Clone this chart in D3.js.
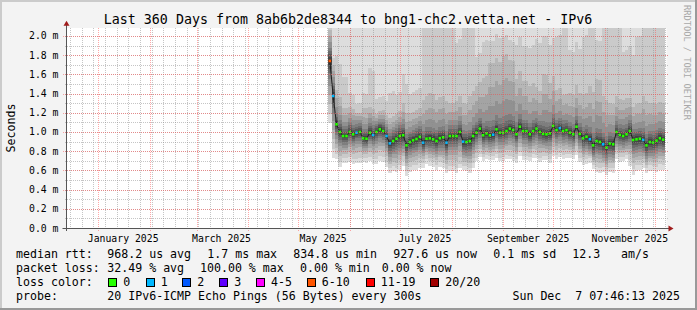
<!DOCTYPE html>
<html>
<head>
<meta charset="utf-8">
<script src="https://cdn.jsdelivr.net/npm/d3@7"></script>
<style>
  body { margin: 0; background: #fff; }
  svg { display: block; }
  text { font-family: "DejaVu Sans Mono", monospace; white-space: pre; }
</style>
</head>
<body>
<script>

// ---- values ----
var title = "Last 360 Days from 8ab6b2de8344 to bng1-chc2.vetta.net - IPv6";
var windowStart = new Date(2024, 11, 13);
var windowEnd = new Date(2025, 11, 8);

// median rtt (ms), one value per 2 days from 19 May 2025
var firstStep = new Date(2025, 4, 19);
var stepDays = 2;
var median = [
  1.74, 1.375, 1.08, 1.0, 0.958, 0.958, 1.0, 0.976, 0.993, 1.0,
  0.934, 0.93, 0.993, 0.969, 1.0, 1.028, 1.01, 0.958, 0.882, 0.906,
  0.93, 0.958, 0.966, 0.861, 0.895, 0.913, 0.927, 0.95, 0.889, 0.93,
  0.934, 0.924, 0.906, 0.935, 0.945, 0.889, 0.958, 0.958, 0.958, 1.0,
  0.899, 0.895, 0.905, 0.958, 0.993, 1.035, 0.966, 0.986, 0.966, 0.972,
  1.028, 0.993, 0.993, 1.01, 1.035, 1.02, 0.976, 1.055, 1.01, 1.01,
  0.976, 1.01, 1.035, 1.0, 0.98, 0.976, 0.986, 1.063, 1.02, 1.04,
  1.01, 1.02, 0.993, 0.976, 1.055, 0.98, 0.934, 0.951, 0.924, 0.861,
  0.906, 0.896, 0.872, 0.837, 0.88, 0.872, 1.0, 0.969, 0.958, 0.976,
  1.01, 0.917, 0.924, 0.93, 0.917, 0.861, 0.895, 0.89, 0.91, 0.935,
  0.92
];

// lost pings (of 20) for the same steps
var lost = [
  7, 1, 0, 0, 0, 0, 0, 0, 1, 0,
  0, 0, 0, 1, 0, 0, 0, 1, 1, 0,
  0, 0, 0, 0, 0, 0, 0, 0, 1, 0,
  0, 0, 0, 0, 0, 1, 0, 0, 0, 0,
  1, 0, 0, 0, 0, 0, 0, 0, 0, 1,
  0, 0, 0, 0, 0, 0, 0, 0, 0, 0,
  0, 0, 0, 0, 0, 0, 0, 0, 0, 1,
  0, 0, 0, 0, 0, 0, 0, 0, 1, 0,
  0, 0, 1, 0, 0, 0, 0, 0, 0, 0,
  0, 0, 0, 0, 1, 0, 0, 0, 0, 0,
  0
];

// smoke: the 20 sorted pings relative to the median (ms), one row per 4 days
var smokeDays = 4;
var smoke = [
  [-.65,-.55,-.45,-.35,-.26,-.19,-.13,-.08,-.04,-.01,.01,.04,.07,.1,.14,.2,.26,.32,.4,1.0],
  [-.36,-.31,-.25,-.2,-.15,-.11,-.08,-.05,-.03,-.01,.01,.03,.05,.08,.12,.18,.27,.36,.71,1.3],
  [-.28,-.23,-.19,-.15,-.12,-.09,-.065,-.045,-.025,-.01,.01,.025,.045,.07,.1,.15,.22,.29,.62,1.3],
  [-.31,-.26,-.21,-.16,-.12,-.09,-.065,-.045,-.025,-.01,.01,.025,.045,.07,.1,.15,.2,.26,.41,1.3],
  [-.32,-.27,-.21,-.16,-.12,-.09,-.06,-.04,-.02,-.01,.01,.02,.04,.06,.09,.13,.17,.2,.3,1.3],
  [-.25,-.2,-.16,-.13,-.1,-.075,-.055,-.04,-.02,-.01,.01,.025,.045,.07,.1,.15,.22,.32,.47,1.3],
  [-.3,-.25,-.2,-.16,-.12,-.09,-.065,-.045,-.025,-.01,.01,.025,.045,.07,.1,.15,.2,.27,.67,1.3],
  [-.33,-.28,-.22,-.17,-.13,-.09,-.065,-.045,-.025,-.01,.01,.02,.04,.06,.08,.11,.15,.19,.34,1.3],
  [-.32,-.27,-.21,-.16,-.12,-.09,-.065,-.045,-.025,-.01,.01,.025,.04,.06,.09,.13,.17,.22,.37,1.3],
  [-.31,-.26,-.22,-.18,-.14,-.11,-.08,-.05,-.03,-.012,.01,.03,.05,.08,.11,.15,.2,.26,.52,1.3],
  [-.35,-.3,-.25,-.2,-.16,-.12,-.09,-.06,-.035,-.015,.01,.03,.05,.08,.11,.15,.2,.26,.46,1.3],
  [-.32,-.27,-.22,-.18,-.14,-.11,-.08,-.055,-.03,-.012,.01,.03,.05,.08,.12,.17,.24,.34,.64,1.3],
  [-.31,-.26,-.21,-.17,-.13,-.1,-.075,-.05,-.03,-.012,.01,.03,.05,.08,.11,.16,.22,.3,.5,1.3],
  [-.32,-.27,-.22,-.18,-.14,-.11,-.08,-.055,-.03,-.012,.01,.03,.05,.08,.11,.16,.22,.3,.51,1.3],
  [-.26,-.21,-.17,-.14,-.11,-.085,-.065,-.045,-.025,-.01,.01,.03,.05,.08,.12,.19,.3,.44,1.19,1.4],
  [-.29,-.24,-.2,-.16,-.13,-.1,-.075,-.05,-.03,-.012,.01,.03,.05,.08,.12,.2,.32,.47,1.27,1.4],
  [-.3,-.25,-.2,-.17,-.13,-.1,-.075,-.05,-.03,-.012,.01,.03,.05,.08,.12,.19,.3,.43,1.28,1.4],
  [-.32,-.27,-.22,-.18,-.14,-.11,-.08,-.055,-.03,-.012,.01,.03,.05,.08,.12,.19,.3,.43,1.28,1.4],
  [-.36,-.31,-.25,-.2,-.15,-.11,-.08,-.05,-.03,-.01,.01,.025,.045,.07,.11,.17,.25,.34,1.24,1.4],
  [-.38,-.33,-.26,-.2,-.15,-.11,-.08,-.05,-.03,-.01,.01,.025,.045,.07,.11,.17,.26,.37,.97,1.4],
  [-.3,-.25,-.21,-.17,-.14,-.11,-.08,-.055,-.03,-.012,.01,.03,.05,.08,.12,.18,.28,.4,1.3,1.4],
  [-.33,-.28,-.23,-.19,-.15,-.11,-.08,-.055,-.03,-.012,.01,.03,.05,.08,.12,.2,.32,.47,1.27,1.4],
  [-.3,-.26,-.21,-.17,-.13,-.095,-.07,-.045,-.025,-.01,.01,.025,.045,.075,.11,.2,.33,.49,.79,1.3],
  [-.27,-.23,-.19,-.15,-.12,-.09,-.065,-.045,-.025,-.01,.01,.025,.05,.08,.13,.24,.4,.6,.97,1.3],
  [-.26,-.22,-.18,-.15,-.12,-.09,-.065,-.045,-.025,-.01,.01,.03,.05,.09,.15,.3,.5,.75,.98,1.3],
  [-.3,-.26,-.21,-.17,-.13,-.095,-.07,-.045,-.025,-.01,.01,.03,.05,.09,.15,.3,.5,.74,.99,1.3],
  [-.29,-.25,-.2,-.16,-.13,-.095,-.07,-.045,-.025,-.01,.01,.03,.055,.1,.17,.33,.55,.8,1.0,1.3],
  [-.32,-.28,-.22,-.17,-.13,-.095,-.07,-.045,-.025,-.01,.01,.03,.05,.09,.15,.3,.5,.72,.92,1.3],
  [-.3,-.26,-.21,-.17,-.13,-.095,-.07,-.045,-.025,-.01,.01,.025,.05,.08,.13,.24,.4,.58,.93,1.3],
  [-.3,-.26,-.21,-.17,-.13,-.095,-.07,-.045,-.025,-.01,.01,.025,.045,.08,.12,.22,.36,.52,.89,1.3],
  [-.28,-.24,-.19,-.155,-.12,-.09,-.065,-.045,-.025,-.01,.01,.025,.045,.08,.12,.21,.34,.5,.9,1.3],
  [-.31,-.27,-.22,-.17,-.13,-.095,-.07,-.045,-.025,-.01,.01,.025,.045,.07,.11,.18,.3,.43,.93,1.3],
  [-.27,-.23,-.19,-.15,-.12,-.09,-.065,-.045,-.025,-.01,.01,.025,.05,.08,.13,.25,.42,.62,1.02,1.3],
  [-.31,-.27,-.22,-.17,-.13,-.095,-.07,-.045,-.025,-.01,.01,.025,.045,.08,.12,.22,.36,.52,.92,1.3],
  [-.3,-.26,-.21,-.17,-.13,-.095,-.07,-.045,-.025,-.01,.01,.025,.045,.07,.11,.18,.3,.42,.97,1.3],
  [-.29,-.25,-.2,-.16,-.125,-.09,-.065,-.045,-.025,-.01,.01,.025,.045,.07,.11,.17,.27,.38,1.18,1.3],
  [-.26,-.22,-.18,-.15,-.12,-.09,-.065,-.045,-.025,-.01,.01,.025,.045,.07,.11,.18,.28,.41,.86,1.3],
  [-.29,-.25,-.2,-.16,-.125,-.09,-.065,-.045,-.025,-.01,.01,.025,.045,.07,.11,.19,.3,.43,.88,1.3],
  [-.28,-.23,-.19,-.16,-.13,-.1,-.075,-.05,-.03,-.012,.01,.03,.05,.08,.12,.2,.31,.46,1.06,1.3],
  [-.25,-.2,-.17,-.15,-.125,-.1,-.075,-.05,-.03,-.012,.01,.03,.05,.08,.13,.24,.38,.56,1.3,1.4],
  [-.32,-.27,-.22,-.18,-.14,-.11,-.08,-.055,-.03,-.012,.01,.03,.05,.09,.14,.27,.42,.65,1.05,1.4],
  [-.29,-.24,-.2,-.17,-.14,-.11,-.08,-.055,-.03,-.012,.01,.03,.05,.08,.12,.22,.34,.5,1.35,1.45],
  [-.3,-.25,-.2,-.17,-.14,-.11,-.08,-.055,-.03,-.012,.01,.03,.05,.08,.12,.2,.3,.42,1.32,1.45],
  [-.28,-.23,-.19,-.155,-.12,-.09,-.065,-.045,-.025,-.01,.01,.025,.045,.07,.11,.17,.26,.37,1.12,1.3],
  [-.26,-.22,-.18,-.15,-.12,-.09,-.065,-.045,-.025,-.01,.01,.025,.045,.07,.11,.18,.27,.38,.88,1.3],
  [-.36,-.3,-.24,-.19,-.15,-.11,-.08,-.055,-.03,-.012,.01,.03,.05,.08,.11,.17,.25,.34,.89,1.3],
  [-.33,-.27,-.22,-.18,-.14,-.11,-.08,-.055,-.03,-.012,.01,.03,.05,.08,.11,.17,.26,.37,1.07,1.3],
  [-.29,-.24,-.2,-.17,-.14,-.11,-.08,-.055,-.03,-.012,.01,.03,.05,.08,.12,.2,.32,.46,1.31,1.4],
  [-.3,-.24,-.2,-.17,-.14,-.11,-.08,-.055,-.03,-.012,.01,.03,.05,.08,.12,.19,.29,.41,1.31,1.4],
  [-.33,-.27,-.22,-.18,-.14,-.11,-.08,-.055,-.03,-.012,.01,.03,.05,.08,.11,.18,.27,.38,1.28,1.4],
  [-.32,-.26,-.21,-.17,-.14,-.11,-.08,-.055,-.03,-.012,.01,.03,.05,.08,.11,.18,.27,.38,1.28,1.4]
];

var lossLabels = ['0', '1', '2', '3', '4-5', '6-10', '11-19', '20/20'];
var lossUpTo = [0, 1, 2, 3, 5, 10, 19, 20];
var lossColors = ['#26ff00', '#00b8ff', '#0059ff', '#5e00ff', '#ff00ff', '#ff5500', '#ff0000', '#a10000'];

var rttStats = ['median rtt:', '968.2 us avg', '1.7 ms max', '834.8 us min', '927.6 us now', '0.1 ms sd', '12.3', 'am/s'];
var lossStats = ['packet loss:', '32.49 % avg', '100.00 % max', '0.00 % min', '0.00 % now'];
var probeInfo = ['probe:', '20 IPv6-ICMP Echo Pings (56 Bytes) every 300s'];
var stamp = 'Sun Dec  7 07:46:13 2025';

// ---- layout ----
var W = 697, H = 310;
var plot = {left: 66.5, right: 666.5, top: 28, bottom: 228};
var rttX = [16, 107.3, 207.3, 293.3, 393.3, 493.3, 572.3, 621];
var lossX = [16, 107.3, 200, 300, 381.7];
var probeX = [16, 107.3];
var swatchX = [123.3, 160.7, 197.3, 234.3, 271, 321.7, 380.7, 445.3];

var svg = d3.select('body').append('svg')
  .attr('width', W)
  .attr('height', H);

// frame
svg.append('rect').attr('width', W).attr('height', H).attr('fill', '#f3f3f3');
svg.append('rect').attr('x', 0).attr('y', 0).attr('width', W).attr('height', 2).attr('fill', '#cbcbcb');
svg.append('rect').attr('x', 0).attr('y', 0).attr('width', 2).attr('height', H).attr('fill', '#cbcbcb');
svg.append('rect').attr('x', 0).attr('y', H - 2).attr('width', W).attr('height', 2).attr('fill', '#999');
svg.append('rect').attr('x', W - 2).attr('y', 0).attr('width', 2).attr('height', H).attr('fill', '#999');

svg.append('rect')
  .attr('x', plot.left).attr('y', plot.top)
  .attr('width', plot.right - plot.left).attr('height', plot.bottom - plot.top)
  .attr('fill', '#fff');

var xscale = d3.scaleTime().domain([windowStart, windowEnd]).range([plot.left, plot.right]);
var yscale = d3.scaleLinear().domain([0, 2.0833]).range([plot.bottom, plot.top]);

svg.append('clipPath').attr('id', 'canvas')
  .append('rect')
  .attr('x', plot.left).attr('y', plot.top)
  .attr('width', plot.right - plot.left).attr('height', plot.bottom - plot.top);

var steps = median.map(function(d, i) { return d3.timeDay.offset(firstStep, i * stepDays); });
var lastEnd = d3.timeDay.offset(firstStep, median.length * stepDays);
var perRow = smokeDays / stepDays;

// smoke: 10 nested bands, outer light, inner dark
var graph = svg.append('g').attr('clip-path', 'url(#canvas)');
var half = 10;
for (var i = 0; i < half; i++) {
  var grey = Math.floor(190 / half * (half - 1 - i)) + 50;
  var band = median.map(function(m, k) {
    var row = smoke[Math.floor(k / perRow)];
    return {t: steps[k], lo: m + row[i], hi: m + row[19 - i]};
  });
  band.push({t: lastEnd, lo: band[band.length - 1].lo, hi: band[band.length - 1].hi});

  var area = d3.area()
    .x(function(d) { return xscale(d.t); })
    .y0(function(d) { return yscale(d.lo); })
    .y1(function(d) { return yscale(d.hi); })
    .curve(d3.curveStepAfter);

  graph.append('path')
    .datum(band)
    .attr('d', area)
    .attr('fill', d3.rgb(grey, grey, grey))
    .attr('shape-rendering', 'crispEdges');
}

// grid on top of the smoke
var grid = svg.append('g').attr('shape-rendering', 'crispEdges');
var minorY = yscale.ticks(20), majorY = yscale.ticks(10);
var minorCol = 'rgba(140,140,140,0.5)', majorCol = 'rgba(255,80,80,0.5)';
grid.selectAll('.hminor').data(minorY).enter().append('line')
  .attr('x1', plot.left - 2).attr('x2', plot.right + 2)
  .attr('y1', function(d) { return Math.round(yscale(d)) + 0.5; })
  .attr('y2', function(d) { return Math.round(yscale(d)) + 0.5; })
  .attr('stroke', minorCol)
  .attr('stroke-dasharray', '1,1');
var weeks = d3.timeSunday.range(windowStart, windowEnd);
grid.selectAll('.vminor').data(weeks).enter().append('line')
  .attr('x1', function(d) { return Math.round(xscale(d)) + 0.5; })
  .attr('x2', function(d) { return Math.round(xscale(d)) + 0.5; })
  .attr('y1', plot.top).attr('y2', plot.bottom + 2)
  .attr('stroke', minorCol)
  .attr('stroke-dasharray', '1,1');
grid.selectAll('.hmajor').data(majorY).enter().append('line')
  .attr('x1', plot.left - 4).attr('x2', plot.right + 2)
  .attr('y1', function(d) { return Math.round(yscale(d)) + 0.5; })
  .attr('y2', function(d) { return Math.round(yscale(d)) + 0.5; })
  .attr('stroke', majorCol)
  .attr('stroke-dasharray', '1,1');
var months = d3.timeMonth.range(windowStart, windowEnd);
grid.selectAll('.vmajor').data(months).enter().append('line')
  .attr('x1', function(d) { return Math.round(xscale(d)) + 0.5; })
  .attr('x2', function(d) { return Math.round(xscale(d)) + 0.5; })
  .attr('y1', plot.top).attr('y2', plot.bottom + 3)
  .attr('stroke', majorCol)
  .attr('stroke-dasharray', '1,1');

// median line and loss coloured marks
var stepW = xscale(steps[1]) - xscale(steps[0]);
var medLine = d3.line()
  .x(function(d, k) { return xscale(steps[k]) + stepW / 2; })
  .y(function(d) { return yscale(d); });
graph.append('path')
  .datum(median)
  .attr('d', medLine)
  .attr('fill', 'none')
  .attr('stroke', '#202020')
  .attr('stroke-width', 1);

var lossIndex = function(n) {
  for (var j = 0; j < lossUpTo.length; j++) { if (n <= lossUpTo[j]) return j; }
  return lossUpTo.length - 1;
};
graph.selectAll('.med').data(median).enter().append('rect')
  .attr('x', function(d, k) { return xscale(steps[k]) + stepW / 2 - 1.3; })
  .attr('y', function(d) { return yscale(d) - 1.3; })
  .attr('width', 2.6)
  .attr('height', 2.6)
  .attr('fill', function(d, k) { return lossColors[lossIndex(lost[k])]; });

// axes
var axisCol = '#555';
svg.append('line')
  .attr('x1', plot.left).attr('x2', plot.left)
  .attr('y1', plot.bottom + 3).attr('y2', 22)
  .attr('stroke', axisCol);
svg.append('path')
  .attr('d', 'M63.5,25.7L69.5,25.7L66.5,20.7Z')
  .attr('fill', '#a01c1c');
svg.append('line')
  .attr('x1', plot.left - 4).attr('x2', 670)
  .attr('y1', plot.bottom + 0.5).attr('y2', plot.bottom + 0.5)
  .attr('stroke', axisCol);
svg.append('path')
  .attr('d', 'M668.5,225.5L668.5,231.5L673.5,228.5Z')
  .attr('fill', '#a01c1c');

svg.selectAll('.ylab').data(majorY).enter().append('text')
  .attr('x', 58.5)
  .attr('y', function(d) { return yscale(d) + 3.5; })
  .attr('text-anchor', 'end')
  .attr('font-size', '9.8px')
  .text(function(d) { return d.toFixed(1) + ' m'; });

var labelMonths = d3.timeMonth.every(2).range(new Date(2025, 0, 1), windowEnd);
svg.selectAll('.xlab').data(labelMonths).enter().append('text')
  .attr('x', function(d) { return xscale(d3.timeDay.offset(d, 15)); })
  .attr('y', 241.5)
  .attr('text-anchor', 'middle')
  .attr('font-size', '9.8px')
  .text(d3.timeFormat('%B %Y'));

// titles
svg.append('text')
  .attr('x', 348).attr('y', 23.5)
  .attr('text-anchor', 'middle')
  .attr('font-size', '13.3px')
  .text(title);
svg.append('text')
  .attr('transform', 'translate(15,128) rotate(-90)')
  .attr('text-anchor', 'middle')
  .attr('font-size', '11.6px')
  .text('Seconds');
svg.append('text')
  .attr('transform', 'translate(684,5) rotate(90)')
  .attr('font-size', '8.7px')
  .attr('fill', '#a8a8a8')
  .text('RRDTOOL / TOBI OETIKER');

// legend
var legendRow = function(items, xs, base) {
  svg.append('g').selectAll('text').data(items).enter().append('text')
    .attr('x', function(d, i) { return xs[i]; })
    .attr('y', base)
    .attr('font-size', '11.6px')
    .text(function(d) { return d; });
};
legendRow(rttStats, rttX, 258.3);
legendRow(lossStats, lossX, 272.3);
legendRow(['loss color:'], [16], 286.3);
legendRow(probeInfo, probeX, 300.3);

svg.selectAll('.swatch').data(lossColors).enter().append('rect')
  .attr('x', function(d, i) { return Math.round(swatchX[i] - 15) + 0.5; })
  .attr('y', 278.5)
  .attr('width', 8)
  .attr('height', 8)
  .attr('fill', function(d) { return d; })
  .attr('stroke', '#000');
legendRow(lossLabels, swatchX, 286.3);

svg.append('text')
  .attr('x', 680).attr('y', 300.3)
  .attr('text-anchor', 'end')
  .attr('font-size', '11.6px')
  .text(stamp);

</script>
</body>
</html>
